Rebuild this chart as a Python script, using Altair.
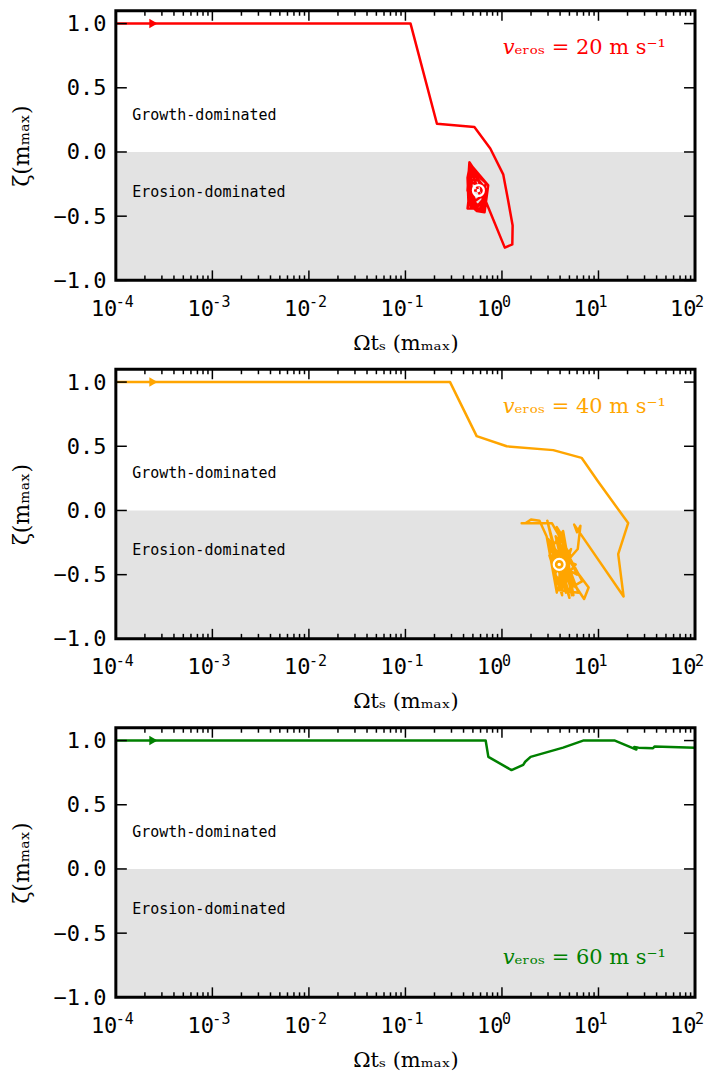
import altair as alt
import pandas as pd

# ---------------- data ----------------
X_MAJOR = [1e-4, 1e-3, 1e-2, 1e-1, 1e0, 1e1, 1e2]
X_EXPONENTS = ["-4", "-3", "-2", "-1", "0", "1", "2"]
X_MINOR = [m * 10.0 ** e for e in range(-4, 2) for m in range(2, 10)]
Y_TICKS = [-1.0, -0.5, 0.0, 0.5, 1.0]

RED_X = [1e-4, 0.113, 0.212, 0.518, 0.757, 1.03, 1.16, 1.29, 1.28, 1.07, 0.676,
         0.60, 0.47, 0.44, 0.45, 0.55, 0.66, 0.72, 0.50, 0.46, 0.44, 0.52, 0.62,
         0.68, 0.48, 0.45, 0.58, 0.70, 0.52, 0.46, 0.47, 0.63, 0.66, 0.50, 0.45,
         0.53, 0.60, 0.49, 0.44, 0.61, 0.69, 0.55, 0.47, 0.46, 0.56, 0.65, 0.58,
         0.48, 0.49, 0.64, 0.62, 0.51, 0.57]
RED_Y = [1.0, 1.0, 0.22, 0.195, 0.027, -0.174, -0.38, -0.573, -0.72, -0.745, -0.38,
         -0.26, -0.09, -0.20, -0.40, -0.46, -0.47, -0.26, -0.12, -0.08, -0.30, -0.44, -0.40,
         -0.24, -0.14, -0.36, -0.46, -0.30, -0.18, -0.12, -0.42, -0.46, -0.28, -0.24, -0.26,
         -0.38, -0.35, -0.16, -0.44, -0.44, -0.33, -0.20, -0.18, -0.33, -0.42, -0.36, -0.22,
         -0.22, -0.40, -0.42, -0.30, -0.30, -0.30]
RED_END = [0.57, -0.30]

ORANGE_X = [1e-4, 0.29, 0.547, 1.12, 3.4, 6.68, 9.9, 20.3, 16.0, 18.2, 5.6,
            6.0, 6.5, 6.1, 5.2, 3.3, 1.6, 1.75, 2.0, 2.45, 2.9, 3.7, 3.4, 2.95,
            4.0, 4.4, 3.7, 5.3, 4.9, 4.3, 3.2, 7.1, 7.9, 6.3, 4.1, 3.9, 5.8,
            3.3, 4.7, 6.8, 4.5, 3.6, 5.2, 3.0, 4.6, 3.3, 5.0, 3.6, 5.8, 3.1,
            4.2, 4.0, 6.0, 3.4, 4.8, 4.4, 5.5, 3.5, 5.2, 3.8, 6.2, 4.1, 4.9,
            3.2, 4.3, 3.7, 5.6, 4.0, 3.92]
ORANGE_Y = [1.0, 1.0, 0.579, 0.50, 0.47, 0.41, 0.225, -0.098, -0.34, -0.67, -0.11,
            -0.17, -0.12, -0.30, -0.36, -0.10, -0.10, -0.10, -0.07, -0.08, -0.20, -0.64, -0.28, -0.08,
            -0.45, -0.22, -0.13, -0.66, -0.40, -0.16, -0.30, -0.69, -0.60, -0.50, -0.30, -0.58, -0.42,
            -0.35, -0.62, -0.55, -0.30, -0.45, -0.48, -0.22, -0.64, -0.25, -0.68, -0.20, -0.60, -0.35,
            -0.66, -0.20, -0.50, -0.40, -0.55, -0.24, -0.66, -0.50, -0.30, -0.62, -0.64, -0.28, -0.45,
            -0.30, -0.52, -0.36, -0.56, -0.46, -0.42]
ORANGE_END = [3.92, -0.42]

GREEN_X = [1e-4, 0.678, 0.723, 1.256, 1.66, 1.74, 1.98, 4.3, 6.93, 14.8, 24.7,
           23.5, 26.0, 36.7, 38.0, 100.0]
GREEN_Y = [1.0, 1.0, 0.873, 0.77, 0.81, 0.835, 0.873, 0.945, 1.0, 1.0, 0.93,
           0.95, 0.945, 0.94, 0.953, 0.945]

START_X = 2.45e-4
SPEED_LABELS = ["𝑣ₑᵣₒₛ = 20 m s⁻¹", "𝑣ₑᵣₒₛ = 40 m s⁻¹", "𝑣ₑᵣₒₛ = 60 m s⁻¹"]
SPEED_LABEL_Y = [0.76, 0.76, -0.74]
COLORS = ["#ff0000", "#ffa500", "#008000"]
REGION_TEXT = ["Growth-dominated", "Erosion-dominated"]
REGION_Y = [0.29, -0.31]

X_TITLE = "Ωtₛ (mₘₐₓ)"
Y_TITLE = "ζ(mₘₐₓ)"

# ---------------- layout ----------------
W, H = 580, 270
XDOM = [1e-4, 1e2]
YDOM = [-1.0, 1.1]
MAJOR_LEN, MINOR_LEN = 10, 5


def panel(xs, ys, color, label, label_y, end):
    xscale = alt.Scale(type="log", domain=XDOM, nice=False)
    yscale = alt.Scale(domain=YDOM, nice=False, zero=False)

    def X(field, axis=None):
        return alt.X(field, scale=xscale, axis=axis)

    def Y(field, axis=None):
        return alt.Y(field, scale=yscale, axis=axis)

    band_df = pd.DataFrame({"x0": [XDOM[0]], "x1": [XDOM[1]], "y0": [-1.0], "y1": [0.0]})
    frame_df = pd.DataFrame({"x0": [XDOM[0]], "x1": [XDOM[1]], "y0": [YDOM[0]], "y1": [YDOM[1]]})
    start_df = pd.DataFrame({"x": [START_X], "y": [1.0]})
    line_df = pd.DataFrame({"x": xs, "y": ys, "i": list(range(len(xs)))})
    xmaj_df = pd.DataFrame({"v": X_MAJOR, "e": X_EXPONENTS, "b": [YDOM[0]] * len(X_MAJOR)})
    xmin_df = pd.DataFrame({"v": X_MINOR})
    ytk_df = pd.DataFrame({"v": Y_TICKS})

    band = alt.Chart(band_df).mark_rect(color="#e3e3e3").encode(
        x=X("x0:Q", alt.Axis(orient="bottom", values=X_MAJOR, labelExpr="'10'",
                             labelAlign="right", labelOffset=1,
                             labelFlush=False, labelOverlap=False,
                             ticks=False, domain=False, grid=False, title=X_TITLE,
                             titleFontSize=21, labelPadding=18, titlePadding=13)),
        x2="x1:Q",
        y=Y("y0:Q", alt.Axis(orient="left", values=Y_TICKS, format=".1f",
                             labelFlush=False, labelOverlap=False,
                             ticks=False, domain=False, grid=False, title=Y_TITLE,
                             titleFontSize=22, labelPadding=10, titlePadding=19)),
        y2="y1:Q",
    )

    expo = alt.Chart(xmaj_df).mark_text(
        align="left", baseline="alphabetic", font="DejaVu Sans Mono", fontSize=15,
        color="black", dy=27, dx=0
    ).encode(x=X("v:Q"), y=Y("b:Q"), text="e:N")

    region_df = pd.DataFrame({"x": [1.48e-4, 1.48e-4], "y": REGION_Y, "t": REGION_TEXT})
    region = alt.Chart(region_df).mark_text(
        align="left", baseline="middle", font="DejaVu Sans Mono", fontSize=15, color="black"
    ).encode(x=X("x:Q"), y=Y("y:Q"), text="t:N")

    line = alt.Chart(line_df).mark_line(color=color, strokeWidth=2.5, strokeJoin="round").encode(
        x=X("x:Q"), y=Y("y:Q"), order="i:Q"
    )

    start = alt.Chart(start_df).mark_point(
        shape="triangle-right", filled=True, color=color, size=90, opacity=1
    ).encode(x=X("x:Q"), y=Y("y:Q"))

    lab_df = pd.DataFrame({"x": [50.0], "y": [label_y], "t": [label]})
    lab = alt.Chart(lab_df).mark_text(
        align="right", baseline="alphabetic", font="DejaVu Serif", fontSize=21, color=color
    ).encode(x=X("x:Q"), y=Y("y:Q"), text="t:N")

    layers = [band, expo, region, line, start, lab]

    if end is not None:
        end_df = pd.DataFrame({"x": [end[0]], "y": [end[1]]})
        ring = alt.Chart(end_df).mark_point(
            shape="circle", filled=False, color="white", size=120, strokeWidth=2.2, opacity=1
        ).encode(x=X("x:Q"), y=Y("y:Q"))
        dot = alt.Chart(end_df).mark_point(
            shape="circle", filled=True, color="white", size=12, opacity=1
        ).encode(x=X("x:Q"), y=Y("y:Q"))
        layers += [ring, dot]

    # inward ticks on all four sides
    rule = dict(color="black", strokeWidth=1.5)
    layers += [
        alt.Chart(xmaj_df).mark_rule(**rule).encode(
            x=X("v:Q"), y=alt.value(H), y2=alt.value(H - MAJOR_LEN)),
        alt.Chart(xmaj_df).mark_rule(**rule).encode(
            x=X("v:Q"), y=alt.value(0), y2=alt.value(MAJOR_LEN)),
        alt.Chart(xmin_df).mark_rule(**rule).encode(
            x=X("v:Q"), y=alt.value(H), y2=alt.value(H - MINOR_LEN)),
        alt.Chart(xmin_df).mark_rule(**rule).encode(
            x=X("v:Q"), y=alt.value(0), y2=alt.value(MINOR_LEN)),
        alt.Chart(ytk_df).mark_rule(**rule).encode(
            y=Y("v:Q"), x=alt.value(0), x2=alt.value(MAJOR_LEN + 1)),
        alt.Chart(ytk_df).mark_rule(**rule).encode(
            y=Y("v:Q"), x=alt.value(W), x2=alt.value(W - MAJOR_LEN - 1)),
    ]

    frame = alt.Chart(frame_df).mark_rect(
        fillOpacity=0, stroke="black", strokeWidth=3
    ).encode(x=X("x0:Q"), x2="x1:Q", y=Y("y0:Q"), y2="y1:Q")
    layers.append(frame)

    return alt.layer(*layers).resolve_axis(x="independent", y="independent").properties(
        width=W, height=H
    )


p1 = panel(RED_X, RED_Y, COLORS[0], SPEED_LABELS[0], SPEED_LABEL_Y[0], RED_END)
p2 = panel(ORANGE_X, ORANGE_Y, COLORS[1], SPEED_LABELS[1], SPEED_LABEL_Y[1], ORANGE_END)
p3 = panel(GREEN_X, GREEN_Y, COLORS[2], SPEED_LABELS[2], SPEED_LABEL_Y[2], None)

chart = alt.vconcat(p1, p2, p3, spacing=14).properties(
    padding={"left": 3, "top": 0, "right": 0, "bottom": 0}
).configure_view(
    stroke=None
).configure_axis(
    labelFont="DejaVu Sans Mono", labelFontSize=22, labelColor="black",
    titleFont="DejaVu Serif", titleFontWeight="normal", titleColor="black"
)

chart.save("out.html", embed_options={"renderer": "svg", "actions": False})
